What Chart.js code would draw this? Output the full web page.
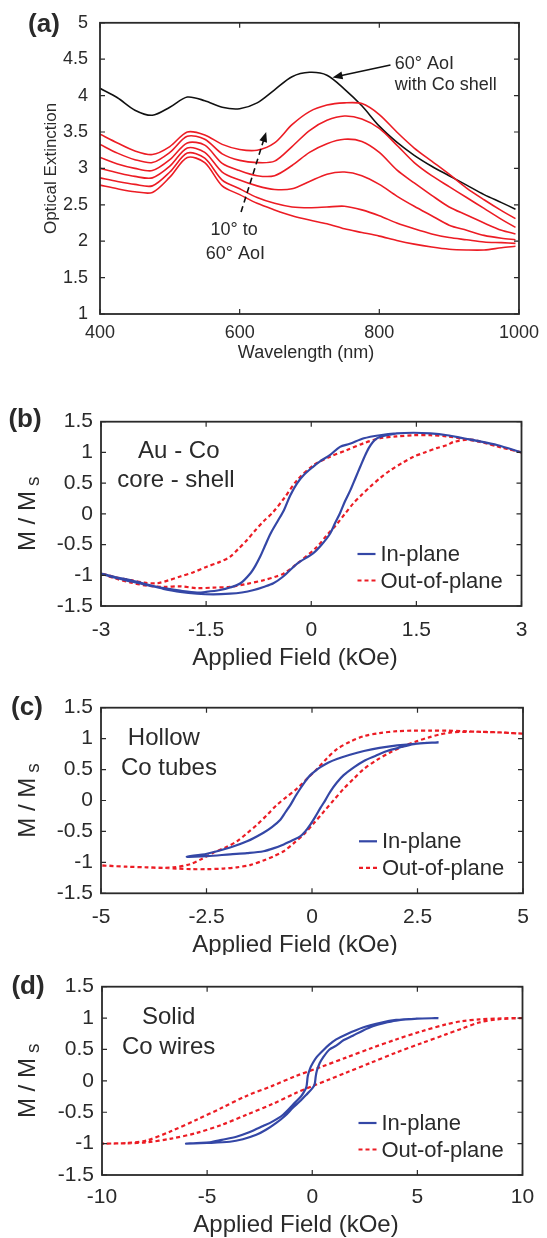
<!DOCTYPE html>
<html>
<head>
<meta charset="utf-8">
<script src="https://cdn.jsdelivr.net/npm/chart.js@4.4.1/dist/chart.umd.min.js"></script>
<style>
  body { margin: 0; background: #fff; }
  #fig { position: relative; width: 547px; height: 1238px; overflow: hidden; }
  canvas { position: absolute; left: 0; }
</style>
</head>
<body>
<div id="fig">
  <canvas id="pa"></canvas>
  <canvas id="pb"></canvas>
  <canvas id="pc"></canvas>
  <canvas id="pd"></canvas>
</div>
<script>
// ---- panel (a): optical extinction vs wavelength ----
const wavelength = [400, 425, 450, 475, 500, 525, 550, 575, 600, 625, 650, 675, 700, 725, 750, 775, 800, 825, 850, 875, 900, 925, 950, 975, 995]
const extCoShell = [4.10, 3.97, 3.80, 3.73, 3.84, 3.98, 3.93, 3.84, 3.82, 3.90, 4.08, 4.26, 4.32, 4.28, 4.09, 3.86, 3.58, 3.36, 3.18, 3.03, 2.90, 2.77, 2.64, 2.53, 2.44]
const ext60 = [3.47, 3.35, 3.24, 3.19, 3.30, 3.50, 3.46, 3.33, 3.26, 3.25, 3.35, 3.60, 3.78, 3.87, 3.90, 3.89, 3.74, 3.50, 3.28, 3.10, 2.92, 2.73, 2.57, 2.42, 2.31]
const ext50 = [3.33, 3.21, 3.12, 3.08, 3.22, 3.44, 3.40, 3.20, 3.11, 3.08, 3.10, 3.30, 3.52, 3.66, 3.72, 3.68, 3.55, 3.32, 3.08, 2.90, 2.75, 2.60, 2.45, 2.30, 2.19]
const ext40 = [3.15, 3.06, 3.00, 2.97, 3.12, 3.35, 3.32, 3.07, 2.97, 2.90, 2.90, 3.04, 3.22, 3.34, 3.40, 3.37, 3.22, 2.98, 2.80, 2.63, 2.47, 2.36, 2.25, 2.15, 2.10]
const ext30 = [3.00, 2.94, 2.89, 2.87, 3.03, 3.28, 3.22, 2.95, 2.84, 2.76, 2.71, 2.72, 2.82, 2.92, 2.95, 2.90, 2.78, 2.62, 2.48, 2.35, 2.22, 2.15, 2.08, 2.04, 2.02]
const ext20 = [2.87, 2.82, 2.78, 2.76, 2.95, 3.21, 3.14, 2.84, 2.72, 2.60, 2.52, 2.47, 2.46, 2.47, 2.48, 2.43, 2.35, 2.25, 2.17, 2.10, 2.05, 2.02, 1.99, 1.98, 1.97]
const ext10 = [2.77, 2.72, 2.68, 2.67, 2.88, 3.15, 3.08, 2.76, 2.64, 2.52, 2.43, 2.35, 2.29, 2.24, 2.17, 2.12, 2.07, 2.01, 1.96, 1.92, 1.89, 1.88, 1.88, 1.91, 1.93]

// ---- panel (b): Au-Co core-shell loops (descending then ascending) ----
const bInH = [3.0, 2.65, 2.4, 2.17, 1.94, 1.7, 1.46, 1.22, 0.98, 0.75, 0.55, 0.41, 0.27, 0.12, 0.03, -0.1, -0.2, -0.3, -0.39, -0.48, -0.58, -0.66, -0.73, -0.8, -0.87, -1.01, -1.16, -1.3, -1.5, -1.63, -1.87, -2.11, -2.34, -2.57, -2.8, -3.0,
  -2.8, -2.57, -2.34, -2.11, -1.87, -1.63, -1.4, -1.16, -0.99, -0.82, -0.68, -0.54, -0.4, -0.2, 0.03, 0.15, 0.27, 0.34, 0.41, 0.48, 0.56, 0.63, 0.7, 0.76, 0.82, 0.88, 0.94, 1.08, 1.22, 1.46, 1.7, 1.94, 2.17, 2.41, 2.65, 3.0]
const bInM = [1.0, 1.12, 1.18, 1.23, 1.28, 1.31, 1.32, 1.31, 1.28, 1.23, 1.14, 1.09, 0.96, 0.85, 0.77, 0.64, 0.5, 0.3, 0.06, -0.12, -0.32, -0.52, -0.7, -0.85, -0.97, -1.13, -1.2, -1.24, -1.27, -1.28, -1.25, -1.21, -1.15, -1.08, -1.03, -0.97,
  -1.04, -1.1, -1.16, -1.22, -1.27, -1.3, -1.31, -1.3, -1.28, -1.24, -1.19, -1.13, -1.02, -0.81, -0.64, -0.5, -0.32, -0.15, 0.01, 0.2, 0.39, 0.58, 0.77, 0.93, 1.07, 1.17, 1.23, 1.28, 1.31, 1.32, 1.31, 1.28, 1.23, 1.18, 1.12, 1.0]
const bOutH = [3.0, 2.68, 2.41, 2.17, 1.94, 1.7, 1.46, 1.22, 0.98, 0.75, 0.51, 0.27, 0.03, -0.2, -0.39, -0.55, -0.68, -0.8, -0.92, -1.04, -1.16, -1.32, -1.49, -1.68, -1.87, -2.03, -2.2, -2.38, -2.57, -2.8, -3.0,
  -2.8, -2.57, -2.34, -2.1, -1.87, -1.63, -1.4, -1.16, -0.92, -0.68, -0.5, -0.39, -0.2, 0.08, 0.22, 0.37, 0.48, 0.6, 0.72, 0.84, 0.98, 1.13, 1.3, 1.46, 1.62, 1.79, 1.94, 2.03, 2.27, 2.5, 2.75, 3.0]
const bOutM = [1.0, 1.09, 1.17, 1.22, 1.26, 1.28, 1.28, 1.26, 1.23, 1.15, 1.04, 0.93, 0.79, 0.55, 0.25, 0.02, -0.12, -0.27, -0.43, -0.57, -0.7, -0.79, -0.86, -0.95, -1.02, -1.08, -1.13, -1.12, -1.08, -1.03, -0.97,
  -1.05, -1.12, -1.17, -1.19, -1.18, -1.21, -1.2, -1.19, -1.14, -1.08, -1.02, -0.97, -0.81, -0.54, -0.35, -0.16, 0.0, 0.17, 0.31, 0.44, 0.58, 0.71, 0.83, 0.93, 1.0, 1.07, 1.12, 1.17, 1.21, 1.15, 1.07, 1.0]

// ---- panel (c): hollow Co tubes ----
const cInH = [3.0, 2.5, 2.02, 1.6, 1.23, 0.9, 0.59, 0.38, 0.2, 0.08, -0.04, -0.16, -0.28, -0.4, -0.51, -0.63, -0.75, -0.95, -1.15, -1.54, -1.94, -2.49, -2.97,
  -2.49, -1.94, -1.54, -1.15, -0.9, -0.67, -0.45, -0.28, -0.16, -0.04, 0.08, 0.2, 0.32, 0.43, 0.59, 0.75, 1.0, 1.23, 1.5, 1.78, 2.1, 2.41, 2.7, 3.0]
const cInM = [0.94, 0.92, 0.89, 0.85, 0.8, 0.74, 0.67, 0.61, 0.54, 0.48, 0.41, 0.31, 0.19, 0.06, -0.07, -0.19, -0.31, -0.43, -0.52, -0.66, -0.76, -0.86, -0.91,
  -0.9, -0.87, -0.85, -0.82, -0.77, -0.71, -0.64, -0.58, -0.5, -0.39, -0.26, -0.12, 0.01, 0.14, 0.29, 0.41, 0.54, 0.64, 0.72, 0.8, 0.86, 0.91, 0.93, 0.94]
const cOutH = [5.0, 4.46, 4.0, 3.6, 3.2, 2.81, 2.4, 2.02, 1.6, 1.23, 0.9, 0.59, 0.35, 0.12, -0.12, -0.36, -0.6, -0.83, -1.06, -1.3, -1.54, -1.78, -2.05, -2.33, -2.6, -2.89, -3.28, -3.6, -3.91, -4.4, -5.0,
  -4.4, -3.91, -3.5, -3.2, -2.85, -2.49, -2.1, -1.78, -1.45, -1.15, -0.9, -0.67, -0.45, -0.2, 0.04, 0.28, 0.52, 0.75, 1.0, 1.23, 1.55, 1.86, 2.17, 2.49, 2.77, 3.04, 3.3, 3.6, 4.0, 4.46, 5.0]
const cOutM = [1.08, 1.1, 1.11, 1.12, 1.13, 1.13, 1.13, 1.12, 1.09, 1.04, 0.95, 0.83, 0.68, 0.51, 0.35, 0.19, 0.06, -0.07, -0.23, -0.39, -0.53, -0.66, -0.76, -0.84, -0.94, -1.03, -1.08, -1.09, -1.08, -1.07, -1.05,
  -1.07, -1.08, -1.09, -1.1, -1.11, -1.11, -1.1, -1.08, -1.04, -0.97, -0.9, -0.82, -0.7, -0.55, -0.37, -0.18, 0.01, 0.19, 0.36, 0.51, 0.66, 0.78, 0.88, 0.96, 1.02, 1.07, 1.1, 1.11, 1.11, 1.1, 1.08]

// ---- panel (d): solid Co wires ----
const dInH = [6.0, 4.94, 3.99, 3.3, 2.41, 1.61, 1.14, 0.82, 0.5, 0.19, 0.02, -0.1, -0.21, -0.28, -0.4, -0.52, -0.92, -1.39, -1.9, -2.34, -3.0, -3.61, -4.3, -4.87, -5.5, -6.0,
  -5.0, -3.92, -3.3, -2.66, -2.2, -1.71, -1.3, -0.92, -0.6, -0.28, 0.0, 0.11, 0.17, 0.22, 0.35, 0.51, 0.82, 1.14, 1.5, 1.93, 2.4, 2.88, 3.4, 3.99, 5.0, 6.0]
const dInM = [1.0, 0.99, 0.97, 0.93, 0.85, 0.74, 0.66, 0.58, 0.48, 0.37, 0.28, 0.2, 0.08, -0.1, -0.18, -0.24, -0.38, -0.54, -0.65, -0.72, -0.82, -0.89, -0.94, -0.98, -0.99, -1.0,
  -0.99, -0.97, -0.93, -0.86, -0.78, -0.67, -0.56, -0.43, -0.33, -0.22, -0.12, -0.06, 0.08, 0.16, 0.28, 0.37, 0.5, 0.56, 0.65, 0.72, 0.8, 0.87, 0.92, 0.96, 0.99, 1.0]
const dOutH = [10, 9.0, 7.94, 7.1, 6.36, 5.2, 3.99, 2.8, 1.61, 0.4, -0.76, -1.9, -3.13, -4.3, -5.5, -6.7, -7.88, -8.8, -10,
  -8.8, -7.88, -6.7, -5.5, -4.3, -3.13, -1.9, -0.76, 0.03, 0.8, 1.61, 2.8, 3.99, 5.2, 6.36, 7.1, 7.94, 8.8, 10]
const dOutM = [1.0, 0.995, 0.98, 0.95, 0.9, 0.79, 0.66, 0.52, 0.37, 0.22, 0.08, -0.08, -0.24, -0.43, -0.62, -0.8, -0.95, -0.99, -1.0,
  -0.995, -0.98, -0.92, -0.83, -0.7, -0.54, -0.37, -0.19, -0.08, 0.02, 0.13, 0.29, 0.45, 0.6, 0.74, 0.83, 0.93, 0.98, 1.0]

const FONT = "'Liberation Sans', Arial, sans-serif"
const INK = '#2a2a2a'
const RED = '#ec1c24'
const BLUE = '#3447a6'

function pts(xs, ys) {
  return xs.map((x, i) => ({ x: x, y: ys[i] }))
}

function line(ctx, x1, y1, x2, y2) {
  ctx.moveTo(x1, y1)
  ctx.lineTo(x2, y2)
}

// draws the matlab style box, inner ticks, titles, notes, arrows and legend
const decor = {
  id: 'decor',
  afterDraw(chart, args, o) {
    const ctx = chart.ctx
    const a = chart.chartArea
    const xs = chart.scales.x
    const ys = chart.scales.y
    ctx.save()
    ctx.strokeStyle = INK
    ctx.lineWidth = 1.2
    ctx.beginPath()
    xs.ticks.forEach((t) => {
      const p = xs.getPixelForValue(t.value)
      line(ctx, p, a.bottom, p, a.bottom - 5)
      line(ctx, p, a.top, p, a.top + 5)
    })
    ys.ticks.forEach((t) => {
      const p = ys.getPixelForValue(t.value)
      line(ctx, a.left, p, a.left + 5, p)
      line(ctx, a.right, p, a.right - 5, p)
    })
    ctx.stroke()
    ctx.lineWidth = 1.8
    ctx.strokeRect(a.left, a.top, a.right - a.left, a.bottom - a.top)

    ctx.fillStyle = INK
    ctx.textBaseline = 'middle'
    // panel letter
    ctx.font = 'bold 26px ' + FONT
    ctx.textAlign = 'center'
    ctx.fillText(o.label.text, o.label.x, o.label.y - o.top)
    // x title
    ctx.font = o.xTitle.size + 'px ' + FONT
    ctx.fillText(o.xTitle.text, o.xTitle.x, o.xTitle.y - o.top)
    // y title, rotated, with optional subscript
    ctx.save()
    ctx.translate(o.yTitle.x, (a.top + a.bottom) / 2)
    ctx.rotate(-Math.PI / 2)
    ctx.font = o.yTitle.size + 'px ' + FONT
    const w1 = ctx.measureText(o.yTitle.text).width
    let w2 = 0
    if (o.yTitle.sub) {
      ctx.font = (o.yTitle.size - 5) + 'px ' + FONT
      w2 = ctx.measureText(o.yTitle.sub).width + 5
    }
    ctx.textAlign = 'left'
    ctx.font = o.yTitle.size + 'px ' + FONT
    ctx.fillText(o.yTitle.text, -(w1 + w2) / 2, 0)
    if (o.yTitle.sub) {
      ctx.font = (o.yTitle.size - 5) + 'px ' + FONT
      ctx.fillText(o.yTitle.sub, -(w1 + w2) / 2 + w1 + 5, 6)
    }
    ctx.restore()

    // notes placed in data coordinates
    ;(o.notes || []).forEach((n) => {
      ctx.font = n.size + 'px ' + FONT
      ctx.textAlign = n.align || 'center'
      ctx.fillText(n.text, xs.getPixelForValue(n.x), ys.getPixelForValue(n.y))
    })
    // arrows in data coordinates
    ;(o.arrows || []).forEach((ar) => {
      const x1 = xs.getPixelForValue(ar.from[0])
      const y1 = ys.getPixelForValue(ar.from[1])
      const x2 = xs.getPixelForValue(ar.to[0])
      const y2 = ys.getPixelForValue(ar.to[1])
      const ang = Math.atan2(y2 - y1, x2 - x1)
      const hl = 10
      ctx.strokeStyle = '#111'
      ctx.fillStyle = '#111'
      ctx.lineWidth = 1.6
      ctx.setLineDash(ar.dash || [])
      ctx.beginPath()
      ctx.moveTo(x1, y1)
      ctx.lineTo(x2 - Math.cos(ang) * hl * 0.8, y2 - Math.sin(ang) * hl * 0.8)
      ctx.stroke()
      ctx.setLineDash([])
      ctx.beginPath()
      ctx.moveTo(x2, y2)
      ctx.lineTo(x2 - hl * Math.cos(ang) + 4 * Math.sin(ang), y2 - hl * Math.sin(ang) - 4 * Math.cos(ang))
      ctx.lineTo(x2 - hl * Math.cos(ang) - 4 * Math.sin(ang), y2 - hl * Math.sin(ang) + 4 * Math.cos(ang))
      ctx.closePath()
      ctx.fill()
    })
    // legend in the lower right corner of the box
    if (o.legend) {
      ctx.font = '22px ' + FONT
      ctx.textAlign = 'left'
      ctx.fillStyle = INK
      chart.data.datasets.forEach((ds, i) => {
        const y = a.bottom - 52 + i * 26.5
        ctx.strokeStyle = ds.borderColor
        ctx.lineWidth = ds.borderWidth
        ctx.setLineDash(ds.borderDash || [])
        ctx.beginPath()
        line(ctx, a.right - 164, y, a.right - 146, y)
        ctx.stroke()
        ctx.setLineDash([])
        ctx.fillText(ds.label, a.right - 141, y + 1)
      })
    }
    ctx.restore()
  },
}

function panel(id, top, height, box, x, y, datasets, deco) {
  const cv = document.getElementById(id)
  cv.style.top = top + 'px'
  cv.width = 547
  cv.height = height
  deco.top = top
  const tickFont = { family: FONT, size: x.font }
  const grid = { display: false, drawTicks: false, tickLength: 0 }
  return new Chart(cv, {
    type: 'scatter',
    data: { datasets: datasets },
    options: {
      responsive: false,
      animation: false,
      events: [],
      layout: { padding: { top: box.t - top, right: 547 - box.r, left: 0, bottom: 0 } },
      plugins: { legend: { display: false }, tooltip: { enabled: false }, decor: deco },
      scales: {
        x: {
          type: 'linear',
          min: x.min,
          max: x.max,
          grid: grid,
          border: { display: false },
          ticks: { stepSize: x.step, font: tickFont, color: INK, padding: x.pad, autoSkip: false, maxRotation: 0, callback: (v) => String(v) },
          afterFit: (s) => { s.height = top + height - box.b },
        },
        y: {
          type: 'linear',
          min: y.min,
          max: y.max,
          grid: grid,
          border: { display: false },
          ticks: { stepSize: y.step, font: tickFont, color: INK, padding: y.pad, autoSkip: false, callback: (v) => String(v) },
          afterFit: (s) => { s.width = box.l },
        },
      },
    },
    plugins: [decor],
  })
}

function curve(xs, ys, color, width, dash, label) {
  return {
    label: label,
    data: pts(xs, ys),
    showLine: true,
    pointRadius: 0,
    borderColor: color,
    borderWidth: width,
    borderDash: dash || [],
    tension: 0.3,
  }
}

// (a)
const aSets = [ext10, ext20, ext30, ext40, ext50, ext60].map((s) => curve(wavelength, s, RED, 1.6))
aSets.push(curve(wavelength, extCoShell, '#111', 1.6))
panel('pa', 0, 372, { l: 100, t: 20.7, r: 529, b: 314 },
  { min: 400, max: 1000, step: 200, font: 18, pad: 8 },
  { min: 1, max: 5, step: 0.5, font: 18, pad: 12 },
  aSets,
  {
    label: { text: '(a)', x: 44, y: 25 },
    xTitle: { text: 'Wavelength (nm)', x: 306, y: 353, size: 18 },
    yTitle: { text: 'Optical Extinction', x: 51, size: 17 },
    notes: [
      { text: '60° AoI', x: 822, y: 4.44, align: 'left', size: 18 },
      { text: 'with Co shell', x: 822, y: 4.15, align: 'left', size: 18 },
      { text: '10° to', x: 592, y: 2.15, size: 18 },
      { text: '60° AoI', x: 594, y: 1.83, size: 18 },
    ],
    arrows: [
      { from: [816, 4.42], to: [733, 4.25] },
      { from: [602, 2.40], to: [638, 3.50], dash: [6, 4] },
    ],
  })

// (b)
panel('pb', 372, 298, { l: 101, t: 421.7, r: 521.5, b: 606 },
  { min: -3, max: 3, step: 1.5, font: 21, pad: 12 },
  { min: -1.5, max: 1.5, step: 0.5, font: 21, pad: 8 },
  [curve(bInH, bInM, BLUE, 2.2, [], 'In-plane'), curve(bOutH, bOutM, RED, 2.2, [4, 3], 'Out-of-plane')],
  {
    label: { text: '(b)', x: 25, y: 420 },
    xTitle: { text: 'Applied Field (kOe)', x: 295, y: 658, size: 24 },
    yTitle: { text: 'M / M', sub: 's', x: 28, size: 24 },
    notes: [
      { text: 'Au - Co', x: -1.89, y: 1.01, size: 24 },
      { text: 'core - shell', x: -1.93, y: 0.55, size: 24 },
    ],
    legend: true,
  })

// (c)
panel('pc', 670, 285, { l: 101, t: 707.7, r: 523, b: 893.3 },
  { min: -5, max: 5, step: 2.5, font: 21, pad: 11 },
  { min: -1.5, max: 1.5, step: 0.5, font: 21, pad: 8 },
  [curve(cInH, cInM, BLUE, 2.2, [], 'In-plane'), curve(cOutH, cOutM, RED, 2.2, [4, 3], 'Out-of-plane')],
  {
    label: { text: '(c)', x: 27, y: 708 },
    xTitle: { text: 'Applied Field (kOe)', x: 295, y: 945, size: 24 },
    yTitle: { text: 'M / M', sub: 's', x: 28, size: 24 },
    notes: [
      { text: 'Hollow', x: -3.51, y: 1.0, size: 24 },
      { text: 'Co tubes', x: -3.39, y: 0.52, size: 24 },
    ],
    legend: true,
  })

// (d)
panel('pd', 955, 283, { l: 102, t: 986.7, r: 522.5, b: 1175 },
  { min: -10, max: 10, step: 5, font: 21, pad: 10 },
  { min: -1.5, max: 1.5, step: 0.5, font: 21, pad: 8 },
  [curve(dInH, dInM, BLUE, 2.2, [], 'In-plane'), curve(dOutH, dOutM, RED, 2.2, [4, 3], 'Out-of-plane')],
  {
    label: { text: '(d)', x: 28, y: 987 },
    xTitle: { text: 'Applied Field (kOe)', x: 296, y: 1225, size: 24 },
    yTitle: { text: 'M / M', sub: 's', x: 28, size: 24 },
    notes: [
      { text: 'Solid', x: -6.83, y: 1.01, size: 24 },
      { text: 'Co wires', x: -6.83, y: 0.53, size: 24 },
    ],
    legend: true,
  })
</script>
</body>
</html>
